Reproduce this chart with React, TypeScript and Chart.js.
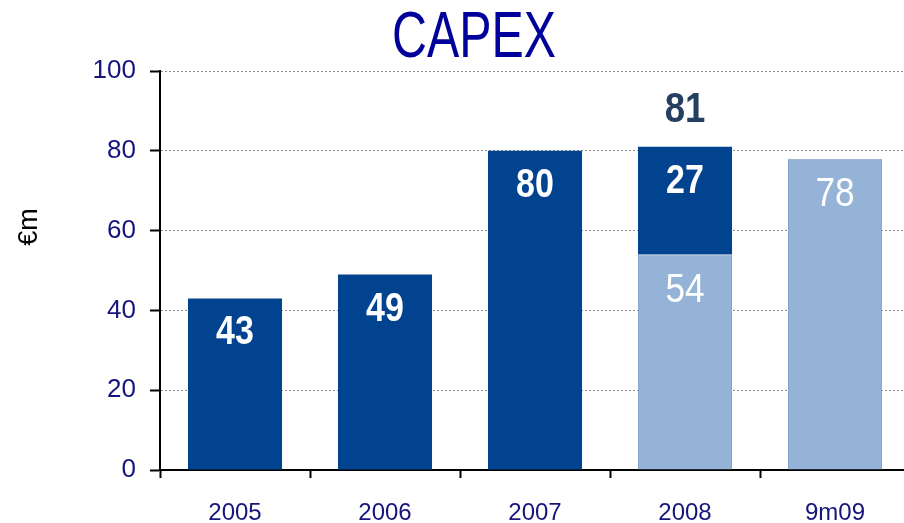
import React, { useEffect, useRef } from 'react';
import { Chart, registerables } from 'chart.js';

Chart.register(...registerables);

const categories = ['2005', '2006', '2007', '2008', '9m09'];
const darkValues: (number | null)[] = [43, 49, 80, 27, null];
const lightValues: (number | null)[] = [null, null, null, 54, 78];
const totalLabels: (number | null)[] = [null, null, null, 81, null];
const yMin = 0;
const yMax = 100;
const yStep = 20;
const chartTitle = 'CAPEX';
const yAxisTitle = '€m';

const DARK = '#02438f';
const LIGHT = '#95b3d7';
const TICK_COLOR = '#15157c';

const textPlugin = {
  id: 'customTexts',
  afterDatasetsDraw(chart: any) {
    const ctx = chart.ctx as CanvasRenderingContext2D;
    const drawText = (
      text: string,
      x: number,
      y: number,
      font: string,
      color: string,
      sx = 1,
      rot = 0
    ) => {
      ctx.save();
      ctx.translate(x, y);
      if (rot) ctx.rotate(rot);
      ctx.scale(sx, 1);
      ctx.font = font;
      ctx.fillStyle = color;
      ctx.textAlign = 'center';
      ctx.textBaseline = 'middle';
      ctx.fillText(text, 0, 0);
      ctx.restore();
    };
    drawText(chartTitle, 474, 39, '64px "Liberation Sans"', '#00009a', 0.755);
    drawText(yAxisTitle, 30, 227, '27px "Liberation Sans"', '#000000', 1, -Math.PI / 2);

    const lightMeta = chart.getDatasetMeta(0);
    const darkMeta = chart.getDatasetMeta(1);
    lightValues.forEach((v, i) => {
      if (v == null) return;
      const el = lightMeta.data[i];
      drawText(String(v), el.x, el.y + 36, '40px "Liberation Sans"', '#ffffff', 0.88);
    });
    darkValues.forEach((v, i) => {
      if (v == null) return;
      const el = darkMeta.data[i];
      drawText(String(v), el.x, el.y + 35, 'bold 40px "Liberation Sans"', '#ffffff', 0.85);
    });
    totalLabels.forEach((v, i) => {
      if (v == null) return;
      const el = darkMeta.data[i];
      drawText(String(v), el.x, el.y - 37, 'bold 43px "Liberation Sans"', '#243f60', 0.85);
    });
  },
};

export default function App() {
  const canvasRef = useRef<HTMLCanvasElement | null>(null);

  useEffect(() => {
    if (!canvasRef.current) return;
    const chart = new Chart(canvasRef.current, {
      type: 'bar',
      data: {
        labels: categories,
        datasets: [
          {
            label: 'light',
            data: lightValues,
            backgroundColor: LIGHT,
            borderColor: '#86a4c9',
            borderWidth: 1,
            barPercentage: 0.627,
            categoryPercentage: 1,
          },
          {
            label: 'dark',
            data: darkValues,
            backgroundColor: DARK,
            borderWidth: 0,
            barPercentage: 0.627,
            categoryPercentage: 1,
          },
        ],
      },
      options: {
        animation: false,
        responsive: false,
        devicePixelRatio: 1,
        layout: { padding: { top: 71, left: 0, right: 0, bottom: 0 } },
        plugins: {
          legend: { display: false },
          tooltip: { enabled: false },
          title: { display: false },
        },
        scales: {
          x: {
            stacked: true,
            offset: true,
            afterFit: (scale: any) => {
              scale.height = 53;
            },
            grid: {
              display: true,
              drawOnChartArea: false,
              drawTicks: true,
              tickLength: 8,
              tickColor: '#000000',
              tickWidth: 2,
              offset: true,
            },
            border: { display: true, color: '#000000', width: 2 },
            ticks: {
              color: TICK_COLOR,
              padding: 21,
              font: { family: '"Liberation Sans"', size: 24 },
            },
          },
          y: {
            stacked: true,
            min: yMin,
            max: yMax,
            afterFit: (scale: any) => {
              scale.width = 160;
            },
            grid: {
              display: true,
              drawOnChartArea: true,
              drawTicks: true,
              tickLength: 10,
              tickColor: '#000000',
              tickWidth: 2,
              tickBorderDash: [],
              color: '#8c8c8c',
              lineWidth: 1,
            },
            border: { display: true, color: '#000000', width: 2, dash: [2, 2] },
            ticks: {
              stepSize: yStep,
              color: TICK_COLOR,
              padding: 14,
              font: { family: '"Liberation Sans"', size: 26 },
            },
          },
        },
      },
      plugins: [textPlugin],
    });
    return () => chart.destroy();
  }, []);

  return (
    <div
      style={{
        position: 'fixed',
        left: 0,
        top: 0,
        width: 904,
        height: 523,
        overflow: 'hidden',
        background: '#ffffff',
      }}
    >
      <canvas ref={canvasRef} width={910} height={523} style={{ display: 'block' }} />
    </div>
  );
}
